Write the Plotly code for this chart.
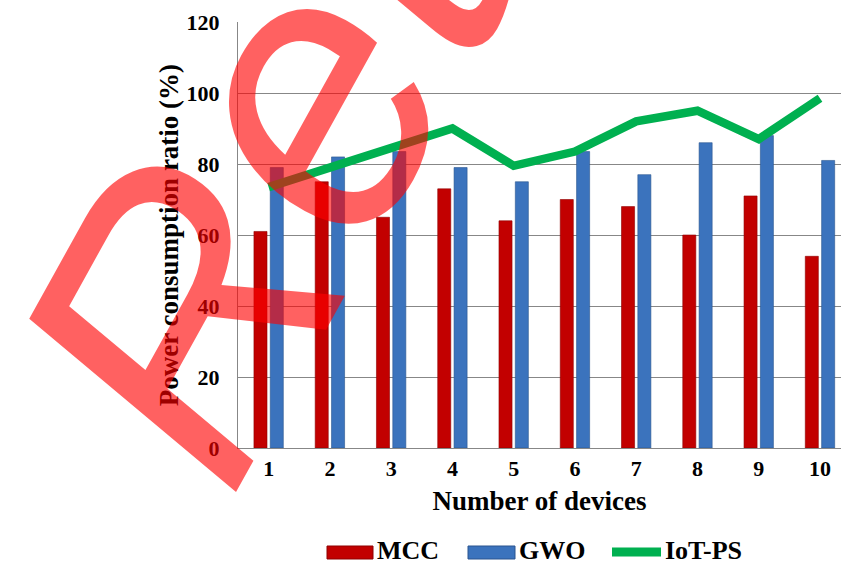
import plotly.graph_objects as go

devices = ["1", "2", "3", "4", "5", "6", "7", "8", "9", "10"]
mcc = [61, 75, 65, 73, 64, 70, 68, 60, 71, 54]
gwo = [79, 82, 83.5, 79, 75, 83.5, 77, 86, 88, 81]
iot_ps = [73.5, 79, 84.5, 90, 79.5, 83.5, 92, 95, 87, 98.5]
y_ticks = [0, 20, 40, 60, 80, 100, 120]

W, H = 841, 567
L, R, T, B = 238, 0, 22, 119
PW, PH = W - L - R, H - T - B

def px(x):
    return (x - L) / PW

def py(y):
    return (H - B - y) / PH

xpos = list(range(1, len(devices) + 1))

fig = go.Figure()
fig.add_trace(go.Bar(x=xpos, y=mcc, name="MCC", marker=dict(color="#C20000", line=dict(color="#8E0000", width=0.6)), showlegend=False))
fig.add_trace(go.Bar(x=xpos, y=gwo, name="GWO", marker=dict(color="#3B73BD", line=dict(color="#2A558F", width=0.6)), showlegend=False))
fig.add_trace(go.Scatter(x=xpos, y=iot_ps, name="IoT-PS", mode="lines", line=dict(color="#00B050", width=8.5), showlegend=False))

serif = "Liberation Serif"

fig.update_layout(
    width=W, height=H,
    margin=dict(l=L, r=R, t=T, b=B, pad=0),
    paper_bgcolor="white", plot_bgcolor="white",
    barmode="group", bargap=0.467, bargroupgap=0.2,
    font=dict(family=serif, color="black"),
    xaxis=dict(
        range=[0.5, 10.343], tickmode="array", tickvals=xpos, ticktext=devices,
        showgrid=False, showline=True, linecolor="#878787", linewidth=1.2,
        ticks="", ticklen=0, ticklabelstandoff=0,
        tickfont=dict(family=serif, size=22, weight="bold", color="black"),
        title=dict(text="Number of devices", font=dict(family=serif, size=27, weight="bold", color="black"), standoff=11),
        zeroline=False,
    ),
    yaxis=dict(
        range=[0, 120], tickvals=y_ticks,
        showgrid=True, gridcolor="#878787", gridwidth=1.2,
        showline=True, linecolor="#878787", linewidth=1.2,
        ticks="", ticklen=0, ticklabelstandoff=13,
        tickfont=dict(family=serif, size=22, weight="bold", color="black"),
        title=dict(text="Power consumption ratio (%)", font=dict(family=serif, size=27, weight="bold", color="black"), standoff=0),
        zeroline=False,
    ),
)

# custom legend (shapes + real text)
legend_y = 550
items = [
    ("MCC", "rect", 327, 373, "#C20000", "#8E0000"),
    ("GWO", "rect", 468, 515, "#3B73BD", "#2A558F"),
    ("IoT-PS", "line", 612, 661, "#00B050", "#00B050"),
]
for name, kind, x0, x1, col, lcol in items:
    if kind == "rect":
        fig.add_shape(type="rect", xref="paper", yref="paper", x0=px(x0), x1=px(x1),
                      y0=py(legend_y + 9), y1=py(legend_y - 4), fillcolor=col,
                      line=dict(color=lcol, width=1))
    else:
        fig.add_shape(type="line", xref="paper", yref="paper", x0=px(x0), x1=px(x1),
                      y0=py(legend_y + 2), y1=py(legend_y + 2), line=dict(color=col, width=9))
    fig.add_annotation(xref="paper", yref="paper", x=px(x1 + 3), y=py(legend_y),
                       text=name, showarrow=False, xanchor="left", yanchor="middle",
                       borderpad=0,
                       font=dict(family=serif, size=26, weight="bold", color="black"))

# watermark overlay
fig.add_annotation(xref="paper", yref="paper", x=0.4705, y=1.752, text="Retracted",
                   showarrow=False, textangle=-61, xanchor="center", yanchor="middle",
                   font=dict(family="Liberation Sans", size=385, style="italic", color="rgba(255,0,0,0.62)"))

fig.write_html("out.html")
